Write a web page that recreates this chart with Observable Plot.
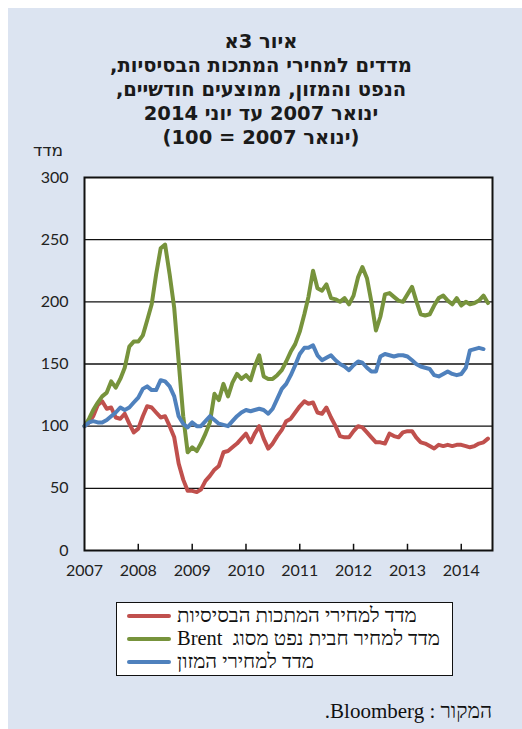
<!DOCTYPE html>
<html>
<head>
<meta charset="utf-8">
<script src="https://cdn.jsdelivr.net/npm/d3@7"></script>
<script src="https://cdn.jsdelivr.net/npm/@observablehq/plot@0.6"></script>
<style>
  html, body { margin: 0; padding: 0; background: #ffffff; }
  #page { position: relative; width: 522px; height: 729px; overflow: hidden; }
  #panel { position: absolute; left: 8px; top: 8px; right: 0; bottom: 0; background: #dce4f1; }
  #title { position: absolute; left: 8px; width: 506px; top: 30px; text-align: center; direction: rtl;
           font-family: "DejaVu Sans", sans-serif; font-weight: bold; font-size: 19.5px; line-height: 24px; color: #1a1a1a; }
  #ylabel { position: absolute; left: 33px; top: 140px; direction: rtl; font-family: "DejaVu Sans", sans-serif; font-size: 17px; color: #222; }
  #chart { position: absolute; left: 0; top: 160px; }
  #legend { position: absolute; left: 116px; top: 602px; width: 335px; height: 72px; border: 1.5px solid #111; background: #fff; }
  .row { position: absolute; left: 10px; height: 23px; display: flex; align-items: center; }
  .sw { width: 44px; height: 4px; border-radius: 2px; margin-right: 6px; }
  .lt { direction: rtl; font-family: "Liberation Serif", "DejaVu Serif", serif; font-size: 20.5px; color: #111; white-space: pre; }
  #source { position: absolute; right: 30px; top: 699px; direction: rtl; font-family: "Liberation Serif", serif; font-size: 21px; color: #111; white-space: pre; }
</style>
</head>
<body>
<div id="page">
  <div id="panel"></div>
  <div id="title">
    <div>איור 3א</div>
    <div>מדדים למחירי המתכות הבסיסיות,</div>
    <div>הנפט והמזון, ממוצעים חודשיים,</div>
    <div>ינואר 2007 עד יוני 2014</div>
    <div>(ינואר 2007 = 100)</div>
  </div>
  <div id="ylabel">מדד</div>
  <div id="chart"></div>
  <div id="legend"></div>
  <div id="source">המקור : Bloomberg.</div>
</div>
<script>
// Monthly values starting January 2007 (index, Jan 2007 = 100)
const metals = [100,103,108,117,120,114,115,107,106,110,102,95,98,108,116,115,111,107,108,100,
  91,70,57,48,48,47,49,56,60,65,68,79,80,83,86,90,94,87,94,100,
  90,82,86,92,97,104,106,111,116,120,118,119,111,110,115,107,100,92,91,91,
  96,100,99,95,91,87,87,86,94,92,91,95,96,96,91,87,86,84,82,85,
  84,85,84,85,85,84,83,84,86,87,90];
const brent = [100,106,113,119,124,127,136,131,138,147,164,168,168,173,185,198,222,243,246,222,
  195,152,108,79,83,80,86,94,103,126,121,134,124,135,142,138,141,137,148,157,
  140,138,138,141,145,152,160,166,176,190,204,225,211,209,214,203,202,200,203,198,
  205,220,228,219,200,177,188,206,207,204,201,200,206,212,201,190,189,190,197,203,
  205,201,198,203,197,200,198,199,201,205,199];
const food = [100,103,104,103,103,105,108,111,115,113,115,119,123,130,132,129,129,137,136,132,
  124,108,102,99,103,100,100,104,108,105,102,101,100,104,108,111,113,112,113,114,
  113,110,114,122,130,134,141,149,158,163,163,165,157,153,155,157,153,150,148,145,
  149,152,151,147,144,144,156,158,157,156,157,157,156,153,150,148,147,146,141,140,
  142,144,142,141,142,147,161,162,163,162];

const seriesNames = ["מדד למחירי המתכות הבסיסיות", "מדד למחיר חבית נפט מסוג  Brent", "מדד למחירי המזון"];
const seriesColors = ["#c0504d", "#77933c", "#4f81bd"];
const yTicks = [0, 50, 100, 150, 200, 250, 300];
const yearTicks = [2007, 2008, 2009, 2010, 2011, 2012, 2013, 2014];

const monthDate = i => new Date(Date.UTC(2007, i, 1));
const toRows = (arr, s) => arr.map((v, i) => ({date: monthDate(i), value: v, series: s}));
const rows = [
  ...toRows(metals, seriesNames[0]),
  ...toRows(brent, seriesNames[1]),
  ...toRows(food, seriesNames[2])
];
const yearDates = yearTicks.map(y => new Date(Date.UTC(y, 0, 1)));

const chart = Plot.plot({
  width: 522,
  height: 430,
  marginLeft: 84,
  marginRight: 30,
  marginTop: 17,
  marginBottom: 40,
  style: {fontFamily: "Lato, 'Open Sans', sans-serif", fontSize: "16px", color: "#222", background: "transparent"},
  x: {type: "utc", domain: [new Date(Date.UTC(2007, 0, 1)), new Date(Date.UTC(2014, 7, 1))]},
  y: {domain: [0, 300]},
  color: {domain: seriesNames, range: seriesColors},
  marks: [
    Plot.frame({fill: "white", stroke: "none"}),
    Plot.ruleY(yTicks.filter(d => d > 0 && d < 300), {stroke: "#111", strokeWidth: 1.3}),
    Plot.ruleX(yearDates.slice(1), {x: d => d, y1: 0, y2: 5, stroke: "#111", strokeWidth: 1.5}),
    Plot.line(rows, {x: "date", y: "value", z: "series", stroke: "series", strokeWidth: 4, strokeLinejoin: "round", strokeLinecap: "round"}),
    Plot.frame({stroke: "#111", strokeWidth: 2}),
    Plot.axisY(yTicks, {tickSize: 0, tickPadding: 16, label: null}),
    Plot.axisX(yearDates, {tickSize: 0, tickPadding: 14, tickFormat: d => String(d.getUTCFullYear()), label: null})
  ]
});
document.getElementById("chart").appendChild(chart);

const legend = document.getElementById("legend");
seriesNames.forEach((name, i) => {
  const row = document.createElement("div");
  row.className = "row";
  row.style.top = (1 + i * 23) + "px";
  const sw = document.createElement("div");
  sw.className = "sw";
  sw.style.background = seriesColors[i];
  const t = document.createElement("span");
  t.className = "lt";
  t.textContent = name;
  row.appendChild(sw);
  row.appendChild(t);
  legend.appendChild(row);
});
</script>
</body>
</html>
